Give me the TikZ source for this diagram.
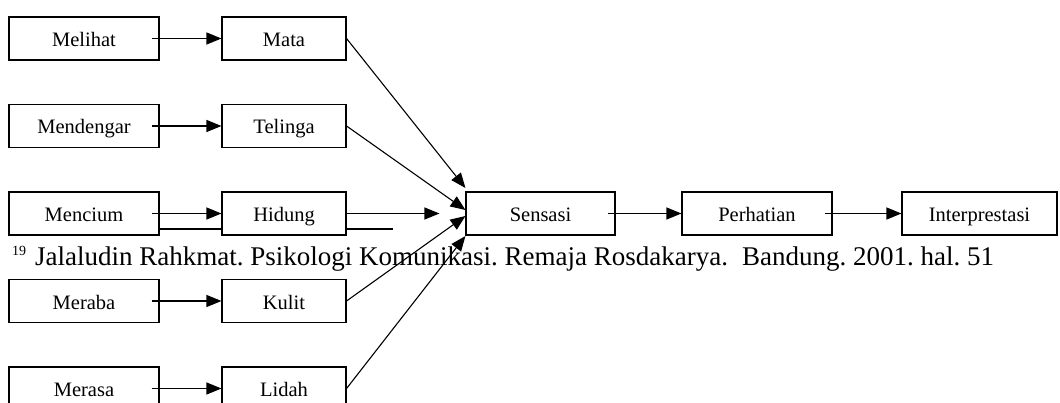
\documentclass[tikz,border=0pt]{standalone}
\usepackage{fontspec}
\setmainfont{Liberation Serif}
\usetikzlibrary{arrows.meta}

\begin{document}
\begin{tikzpicture}[x=1pt, y=-1pt,
  box/.style={draw, line width=1.1pt, minimum height=43pt, inner sep=0pt,
    text height=16pt, text depth=0pt, font=\fontsize{20.5}{24}\selectfont},
  wide/.style={box, minimum width=150pt},
  narrow/.style={box, minimum width=124pt},
  link/.style={line width=1.1pt},
  >={Triangle[length=15pt, width=12pt]}]
\useasboundingbox (0,0) rectangle (1060,403);

\node [wide] (0) at (84, 38.5) {Melihat};
\node [wide] (1) at (84, 126) {Mendengar};
\node [wide] (2) at (84, 213.5) {Mencium};
\node [wide] (3) at (84, 301) {Meraba};
\node [wide] (4) at (84, 388.5) {Merasa};
\node [narrow] (5) at (284, 38.5) {Mata};
\node [narrow] (6) at (284, 126) {Telinga};
\node [narrow] (7) at (284, 213.5) {Hidung};
\node [narrow] (8) at (284, 301) {Kulit};
\node [narrow] (9) at (284, 388.5) {Lidah};
\node [wide, minimum width=149pt] (10) at (540.5, 213.5) {Sensasi};
\node [wide] (11) at (757, 213.5) {Perhatian};
\node [wide, minimum width=155pt] (12) at (979.5, 213.5) {Interprestasi};
\coordinate (13) at (393, 229);

\foreach \a/\b in {0/5, 1/6, 2/7, 3/8, 4/9, 10/11, 11/12}
  \draw [link, ->] ([xshift=-8pt]\a.east) to (\b.west);

\draw [link, ->] (5.east) to ([yshift=25.5pt]10.west);
\draw [link, ->] (6.east) to ([yshift=3.5pt]10.west);
\draw [link, ->] (7.east) to ([xshift=-26pt]10.west);
\draw [link, ->] (8.east) to ([yshift=-2.5pt]10.west);
\draw [link, ->] (9.east) to ([yshift=-22.5pt]10.west);

\draw [link] ([yshift=-15.5pt]2.east) to ([yshift=-15.5pt]7.west);
\draw [link] ([yshift=-15.5pt]7.east) to (13);

\node [anchor=base west, inner sep=0pt, font=\fontsize{27}{32}\selectfont] (14) at (12, 266)
  {\frenchspacing\raisebox{10pt}{\fontsize{14}{14}\selectfont 19}\hspace{9pt}Jalaludin Rahkmat. Psikologi Komunikasi. Remaja Rosdakarya.\hspace{14pt}Bandung. 2001. hal. 51};
\end{tikzpicture}
\end{document}
